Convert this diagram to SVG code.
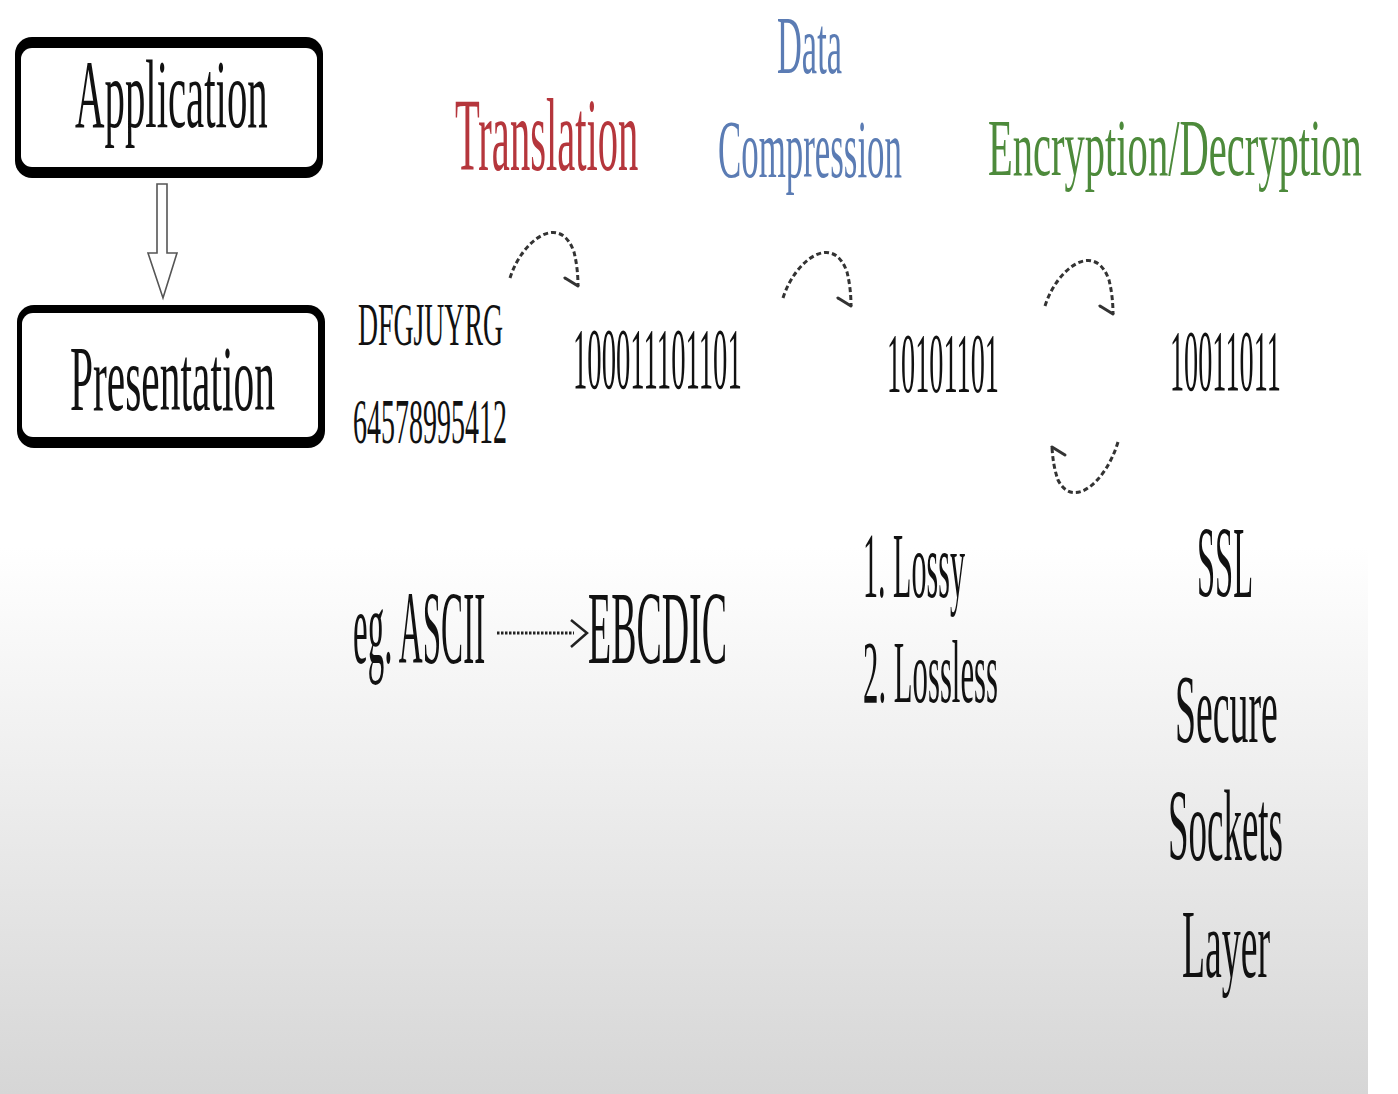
<svg xmlns="http://www.w3.org/2000/svg" width="1398" height="1094" viewBox="0 0 1398 1094">
<defs>
<linearGradient id="bg" x1="0" y1="0" x2="0" y2="1094" gradientUnits="userSpaceOnUse">
<stop offset="0" stop-color="#ffffff"/>
<stop offset="0.5" stop-color="#ffffff"/>
<stop offset="1" stop-color="#d6d6d6"/>
</linearGradient>
</defs>
<style>
text{font-family:"Liberation Serif","Times New Roman",serif;fill:#111;}
.red{fill:#b5363c;}
.blue{fill:#5b7cb4;}
.green{fill:#4d8a3b;}
.dash{fill:none;stroke:#333;stroke-width:3;stroke-dasharray:5 3;stroke-linecap:butt;}
.barb{fill:none;stroke:#333;stroke-width:3;stroke-linecap:round;}
</style>
<rect x="0" y="0" width="1368" height="1094" fill="url(#bg)"/>
<rect x="1368" y="0" width="30" height="1094" fill="#ffffff"/>

<g id="node-application">
<rect x="15" y="37" width="308" height="141" rx="17" fill="#000"/>
<rect x="21" y="48" width="296" height="119" rx="11" fill="#fff"/>
<text font-size="97" transform="translate(75,127) scale(0.421,1)">Application</text>
</g>

<g id="node-presentation">
<rect x="17" y="305" width="308" height="143" rx="17" fill="#000"/>
<rect x="22" y="313" width="296" height="124" rx="11" fill="#fff"/>
<text font-size="94" transform="translate(70,410) scale(0.441,1)">Presentation</text>
</g>

<g id="node-translation">
<text class="red" font-size="103" transform="translate(455,170) scale(0.394,1)">Translation</text>
</g>
<g id="node-compression">
<text class="blue" font-size="81.5" transform="translate(777,73) scale(0.4224,1)">Data</text>
<text class="blue" font-size="83" transform="translate(718,177) scale(0.420,1)">Compression</text>
</g>
<g id="node-encryption">
<text class="green" font-size="80" transform="translate(988,175) scale(0.507,1)">Encryption/Decryption</text>
</g>

<g id="node-input">
<text font-size="61" transform="translate(358,345) scale(0.455,1)">DFGJUYRG</text>
<text font-size="64" transform="translate(353,443) scale(0.4375,1)">64578995412</text>
</g>
<g id="node-binary1">
<text font-size="86" transform="translate(573,388) scale(0.3333,1)">100011101101</text>
</g>
<g id="node-binary2">
<text font-size="85" transform="translate(887,392) scale(0.3324,1)">10101101</text>
</g>
<g id="node-binary3">
<text font-size="86" transform="translate(1170,390) scale(0.3285,1)">10011011</text>
</g>

<g id="node-ascii">
<text font-size="103" transform="translate(353,663) scale(0.3208,1)">eg. ASCII</text>
</g>
<g id="node-ebcdic">
<text font-size="103" transform="translate(588,663) scale(0.368,1)">EBCDIC</text>
</g>

<g id="node-lossy">
<text font-size="94" transform="translate(863,597) scale(0.320,1)">1. Lossy</text>
<text font-size="89" transform="translate(863,702) scale(0.3456,1)">2. Lossless</text>
</g>

<g id="node-ssl">
<text font-size="101" transform="translate(1197,597) scale(0.322,1)">SSL</text>
<text font-size="98" transform="translate(1175,742) scale(0.386,1)">Secure</text>
<text font-size="101" transform="translate(1168,860) scale(0.366,1)">Sockets</text>
<text font-size="97" transform="translate(1182,977) scale(0.389,1)">Layer</text>
</g>

<g id="connectors">
<polygon points="157,184 167,184 167,253 177,253 163,298 148,253 157,253" fill="#fff" stroke="#555" stroke-width="1.6" stroke-linejoin="miter"/>
<g id="arc1">
<path class="dash" d="M510,278 C522,240 560,212 574,252 Q578,268 578,286"/>
<path class="barb" d="M565,278 L578,286"/>
</g>
<g id="arc2" transform="translate(273,20)">
<path class="dash" d="M510,278 C522,240 560,212 574,252 Q578,268 578,286"/>
<path class="barb" d="M565,278 L578,286"/>
</g>
<g id="arc3" transform="translate(535,28)">
<path class="dash" d="M510,278 C522,240 560,212 574,252 Q578,268 578,286"/>
<path class="barb" d="M565,278 L578,286"/>
</g>
<g id="arc4">
<path class="dash" d="M1118,442 C1106,482 1073,510 1058,480 Q1053,466 1052,447"/>
<path class="barb" d="M1065,455 L1052,447"/>
</g>
<line x1="497" y1="633" x2="574" y2="633" stroke="#222" stroke-width="3" stroke-dasharray="2.5 1.5"/>
<polyline points="571,620 587,633 571,647" fill="none" stroke="#222" stroke-width="2.5"/>
</g>
</svg>
